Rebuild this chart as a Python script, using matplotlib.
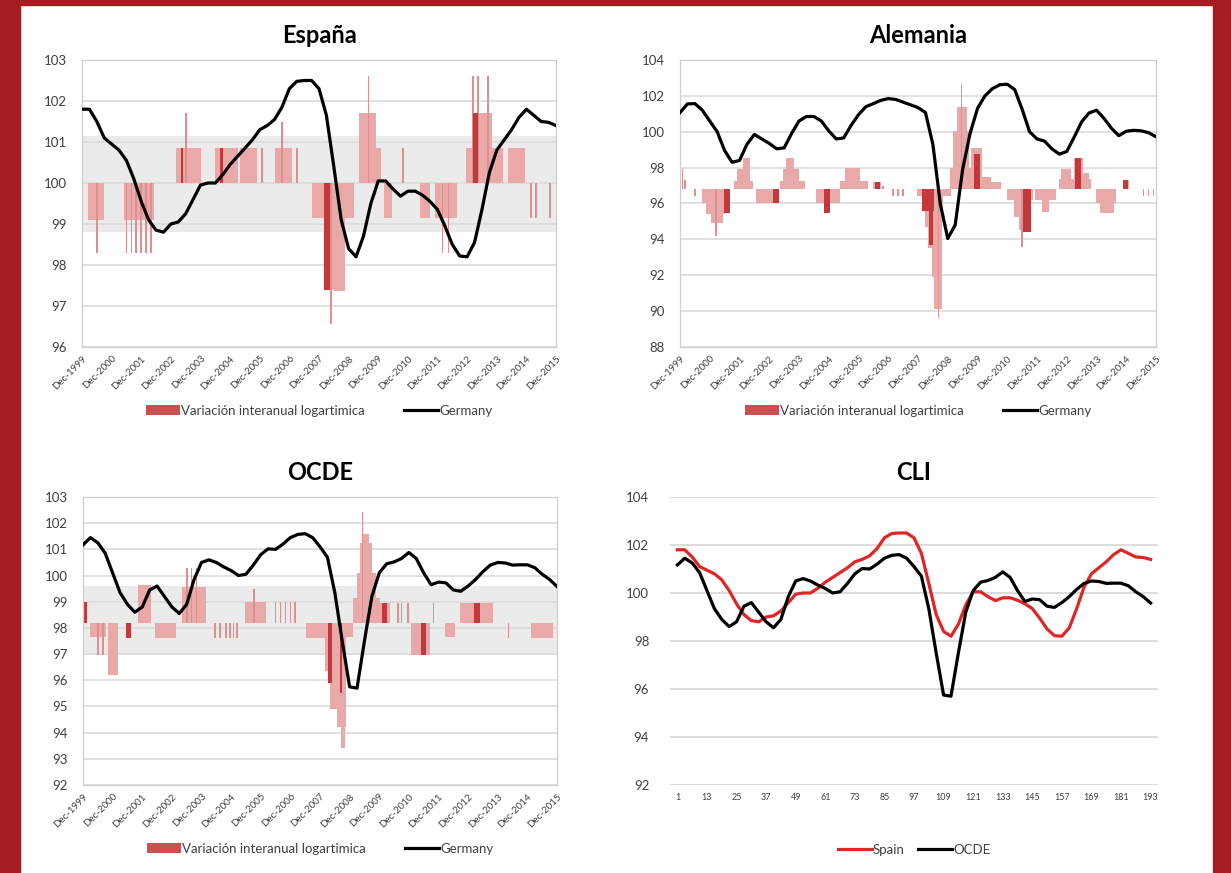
import numpy as np
import matplotlib
matplotlib.use("Agg")
import matplotlib.pyplot as plt
from matplotlib.patches import Rectangle, Patch
from matplotlib.lines import Line2D

plt.rcParams['font.family'] = ['Lato', 'DejaVu Sans']

# --- data: quarterly readings, month 0 = Dec-1999 ... month 192 = Dec-2015 ---
months = np.arange(0, 193, 3)

spain = [101.8, 101.8, 101.5, 101.1, 100.95, 100.8, 100.55, 100.1, 99.55, 99.1,
         98.85, 98.8, 99.0, 99.05, 99.25, 99.6, 99.95, 100.0, 100.0, 100.2,
         100.45, 100.65, 100.85, 101.05, 101.3, 101.4, 101.55, 101.85, 102.3, 102.48,
         102.5, 102.5, 102.3, 101.65, 100.4, 99.1, 98.4, 98.2, 98.7, 99.5,
         100.05, 100.05, 99.85, 99.68, 99.8, 99.8, 99.7, 99.55, 99.35, 98.95,
         98.5, 98.22, 98.2, 98.55, 99.35, 100.25, 100.8, 101.05, 101.3, 101.6,
         101.8, 101.65, 101.5, 101.48, 101.4]

ocde = [101.17, 101.45, 101.25, 100.85, 100.1, 99.35, 98.9, 98.6, 98.8, 99.45,
        99.6, 99.2, 98.8, 98.55, 98.9, 99.85, 100.5, 100.6, 100.5, 100.33,
        100.19, 100.0, 100.05, 100.4, 100.8, 101.02, 101.0, 101.2, 101.45, 101.57,
        101.6, 101.45, 101.1, 100.7, 99.35, 97.5, 95.75, 95.7, 97.5, 99.2,
        100.1, 100.45, 100.52, 100.65, 100.88, 100.65, 100.1, 99.65, 99.75, 99.72,
        99.45, 99.4, 99.6, 99.85, 100.15, 100.4, 100.5, 100.48, 100.4, 100.41,
        100.41, 100.3, 100.05, 99.85, 99.58]

germany = [101.07, 101.55, 101.57, 101.2, 100.6, 100.0, 98.95, 98.3, 98.4, 99.3,
           99.85, 99.6, 99.35, 99.05, 99.1, 99.9, 100.6, 100.85, 100.85, 100.6,
           100.05, 99.6, 99.65, 100.35, 100.95, 101.4, 101.57, 101.75, 101.85, 101.8,
           101.65, 101.5, 101.35, 101.07, 99.3, 95.98, 94.05, 94.8, 97.9, 99.9,
           101.3, 102.0, 102.4, 102.62, 102.65, 102.35, 101.26, 100.0, 99.6, 99.48,
           99.05, 98.75, 98.9, 99.7, 100.55, 101.05, 101.2, 100.75, 100.2, 99.78,
           100.03, 100.08, 100.05, 99.95, 99.72]

year_labels = ['Dec-%d' % y for y in range(1999, 2016)]
cli_ticks = [1, 13, 25, 37, 49, 61, 73, 85, 97, 109, 121, 133, 145, 157, 169, 181, 193]

# bars "Variación interanual logartimica": blocks (start month, end month, level)
esp_base = 100
esp_blk_start = [2.5, 17, 38, 54, 64, 78, 93, 98, 102, 106.5, 112, 119, 122.5, 137, 143, 155.5, 158, 166, 172.5]
esp_blk_end = [9, 29, 48, 63, 71, 85, 98, 102, 106.5, 110, 119, 121, 125.5, 141, 152, 158, 166, 170.5, 179.5]
esp_blk_val = [99.1, 99.1, 100.85, 100.85, 100.85, 100.85, 99.15, 97.4, 97.37, 99.15,
               101.7, 100.85, 99.15, 99.15, 99.15, 100.85, 101.7, 100.85, 100.85]
esp_spk_month = [6, 18, 20, 22, 24, 26, 28, 42, 73, 81, 87, 101, 116, 130, 146, 148.5, 158.5, 160.5, 164.5, 182, 184, 189.5]
esp_spk_val = [98.3, 98.3, 98.3, 98.3, 98.3, 98.3, 98.3, 101.7, 100.85, 101.5, 100.85, 96.55, 102.6,
               100.85, 98.3, 98.3, 102.6, 102.6, 102.6, 99.15, 99.15, 99.15]
esp_dark_start = [40, 56, 98, 158.5]
esp_dark_end = [41, 57, 100.5, 160.5]
esp_dark_val = [100.85, 100.85, 97.4, 101.7]

ger_base = 96.8
ger_blk_start = [8.8, 10.5, 12.5, 21.8, 23, 25.6, 30.7, 40.4, 41.7, 42.9, 55, 64.7, 66.7, 78,
                 95.7, 97.7, 99, 100, 101.7, 102.4, 109, 110.3, 111.7, 117.2, 121.9, 125.3,
                 132, 134.7, 136.7, 143, 146.2, 152.9, 153.6, 159, 162.4, 167.8, 169.6, 178.6]
ger_blk_end = [20.2, 18, 17.5, 29.6, 28.4, 28.2, 39.8, 50.5, 47.8, 45.8, 64.4, 76, 72.8, 81,
               109.5, 106, 105.5, 105.5, 105.8, 105.5, 117.2, 116.5, 115.9, 121.9, 125.3, 129.4,
               142.2, 141.5, 140.8, 151.6, 149, 165.7, 157.7, 162.4, 165.1, 175.9, 175.2, 181.3]
ger_blk_val = [96.0, 95.4, 94.9, 97.25, 97.95, 98.55, 96.05, 97.25, 97.95, 98.55, 96.05, 97.25, 98.0, 97.2,
               96.4, 95.6, 94.7, 93.5, 91.9, 90.1, 98.0, 100.05, 101.4, 99.1, 97.5, 97.2,
               96.2, 95.25, 94.5, 96.2, 95.5, 97.35, 97.95, 98.55, 97.7, 96.05, 95.45, 97.3]
ger_spk_month = [1, 2, 6, 14.5, 82, 86, 88, 90, 104.3, 113.5, 138, 187, 189, 191]
ger_spk_val = [97.9, 97.3, 96.4, 94.2, 97.0, 96.4, 96.4, 96.4, 89.6, 102.65, 93.6, 96.4, 96.4, 96.4]
ger_dark_start = [17.8, 37.5, 58.2, 78.5, 97.7, 100.5, 118.5, 138.5, 159.5, 178.8]
ger_dark_end = [20.2, 39.8, 60.6, 80.5, 102.4, 102, 121.2, 141.5, 161.8, 180.8]
ger_dark_val = [95.45, 96.05, 95.45, 97.2, 95.6, 93.7, 98.75, 94.4, 98.55, 97.3]

oecd_base = 98.2
oecd_blk_start = [0.3, 2.7, 10, 17.6, 22.3, 29, 39.9, 65.5, 90.5, 98, 100, 103, 104.5, 106.1,
                  109.5, 110.8, 112, 113, 119, 133, 146.6, 152.7, 181.6]
oecd_blk_end = [1.6, 9.5, 14.2, 19.6, 27.7, 37.8, 50, 74.3, 98, 102.7, 106.5, 106.5, 106.2, 109.5,
                120.3, 118.6, 116.9, 115.7, 124.3, 140.5, 150.7, 166.2, 190.5]
oecd_blk_val = [99.0, 97.65, 96.2, 97.6, 99.64, 97.6, 99.58, 99.0, 97.6, 96.34, 94.9, 94.2, 93.4, 97.67,
                99.13, 100.09, 101.23, 101.6, 98.94, 96.97, 97.67, 98.94, 97.6]
oecd_spk_month = [6, 8, 42, 44, 46, 53.5, 55.5, 58, 59.5, 61, 62.5, 69.2, 78, 80, 82, 84, 86,
                  113.2, 127.5, 129, 131.5, 142, 172.3]
oecd_spk_val = [96.97, 96.97, 100.28, 100.28, 100.28, 97.6, 97.6, 97.6, 97.6, 97.6, 97.6, 99.5,
                99.0, 99.0, 99.0, 99.0, 99.0, 102.44, 98.94, 98.94, 98.94, 98.94, 97.6]
oecd_dark_start = [0.3, 17.6, 99.3, 104, 121, 137, 158.5]
oecd_dark_end = [1.6, 19.6, 100.7, 105, 123, 139, 161]
oecd_dark_val = [99.0, 97.6, 95.9, 95.5, 98.94, 96.97, 98.94]

# --- styles ---
BORDER = '#a51d21'
PINK = '#eaa9a9'
SPIKE = '#e08f8f'
DARK = '#c4373a'
GRID = '#d9d9d9'
TXT = '#404040'

W, H = 1231, 873
fig = plt.figure(figsize=(W / 100, H / 100), dpi=100)
fig.patch.set_facecolor('white')


def box(x0, y0, x1, y1):
    return [x0 / W, 1 - y1 / H, (x1 - x0) / W, (y1 - y0) / H]


def bar_panel(rect, title, ylim, yticks, band, base,
              bs, be, bv, sm, sv, ds, de, dv, line):
    ax = fig.add_axes(rect)
    ax.set_xlim(0, 192)
    ax.set_ylim(*ylim)
    ax.set_yticks(yticks)
    ax.yaxis.grid(True, color=GRID, lw=1.1)
    ax.set_axisbelow(True)
    if band:
        ax.axhspan(band[0], band[1], color='#ebebeb', zorder=0.5, lw=0)
    s, e, v = np.array(bs), np.array(be), np.array(bv)
    ax.bar(s, v - base, width=e - s, bottom=base, align='edge', color=PINK, lw=0, zorder=2)
    ax.bar(np.array(sm), np.array(sv) - base, width=0.7, bottom=base, color=SPIKE, lw=0, zorder=2)
    s, e, v = np.array(ds), np.array(de), np.array(dv)
    ax.bar(s, v - base, width=e - s, bottom=base, align='edge', color=DARK, lw=0, zorder=2)
    ax.plot(months, line, color='black', lw=2.3, zorder=3, solid_joinstyle='round')
    ax.set_xticks(np.arange(0, 193, 12))
    ax.set_xticklabels(year_labels, rotation=45, ha='right', rotation_mode='anchor',
                       fontsize=7, color=TXT)
    ax.tick_params(axis='x', length=0, pad=5)
    ax.tick_params(axis='y', length=0, pad=11, labelsize=9.5, labelcolor=TXT)
    for sp in ax.spines.values():
        sp.set_color('#cfcfcf')
        sp.set_linewidth(0.9)
    ax.set_title(title, fontsize=17, fontweight='bold', pad=12)
    handles = [Patch(facecolor='#c9504f', edgecolor='none'),
               Line2D([], [], color='black', lw=2.3)]
    ax.legend(handles, ['Variación interanual logartimica', 'Germany'], ncol=2,
              loc='center', bbox_to_anchor=(0.5, -0.222), frameon=False,
              fontsize=9.5, handlelength=2.6, handleheight=0.8, handletextpad=0.05,
              columnspacing=3.0, labelcolor=TXT)
    return ax


bar_panel(box(82, 60, 556, 347), 'España', (96, 103), range(96, 104), (98.8, 101.15),
          esp_base, esp_blk_start, esp_blk_end, esp_blk_val, esp_spk_month, esp_spk_val,
          esp_dark_start, esp_dark_end, esp_dark_val, spain)

bar_panel(box(680, 60, 1156, 347), 'Alemania', (88, 104), range(88, 105, 2), None,
          ger_base, ger_blk_start, ger_blk_end, ger_blk_val, ger_spk_month, ger_spk_val,
          ger_dark_start, ger_dark_end, ger_dark_val, germany)

bar_panel(box(83, 497, 557, 785), 'OCDE', (92, 103), range(92, 104), (96.95, 99.6),
          oecd_base, oecd_blk_start, oecd_blk_end, oecd_blk_val, oecd_spk_month, oecd_spk_val,
          oecd_dark_start, oecd_dark_end, oecd_dark_val, ocde)

# CLI panel
ax = fig.add_axes(box(670, 497, 1158, 785))
ax.set_xlim(-2, 196)
ax.set_ylim(92, 104)
ax.set_yticks(range(92, 105, 2))
ax.yaxis.grid(True, color=GRID, lw=1.3)
ax.set_axisbelow(True)
ax.plot(months + 1, spain, color='#e02525', lw=2.3, label='Spain', solid_joinstyle='round')
ax.plot(months + 1, ocde, color='black', lw=2.3, label='OCDE', solid_joinstyle='round')
ax.set_xticks(cli_ticks)
ax.set_xticklabels([str(t) for t in cli_ticks], fontsize=6.5, color=TXT)
ax.tick_params(axis='x', length=0, pad=6)
ax.tick_params(axis='y', length=0, labelsize=9.5, labelcolor=TXT, pad=15)
for sp in ax.spines.values():
    sp.set_visible(False)
ax.set_title('CLI', fontsize=17, fontweight='bold', pad=12)
ax.legend(loc='center', bbox_to_anchor=(0.5, -0.225), ncol=2, frameon=False,
          fontsize=9.5, handlelength=2.6, handletextpad=0.05, columnspacing=1.0,
          labelcolor=TXT)

# dark red frame of the page
for x0, y0, x1, y1 in [(0, 0, 20, H), (0, 0, W, 5), (1213, 0, W, H)]:
    fig.patches.append(Rectangle((x0 / W, 1 - y1 / H), (x1 - x0) / W, (y1 - y0) / H,
                                 transform=fig.transFigure, color=BORDER, zorder=10))

fig.savefig('out.png', dpi=100)
